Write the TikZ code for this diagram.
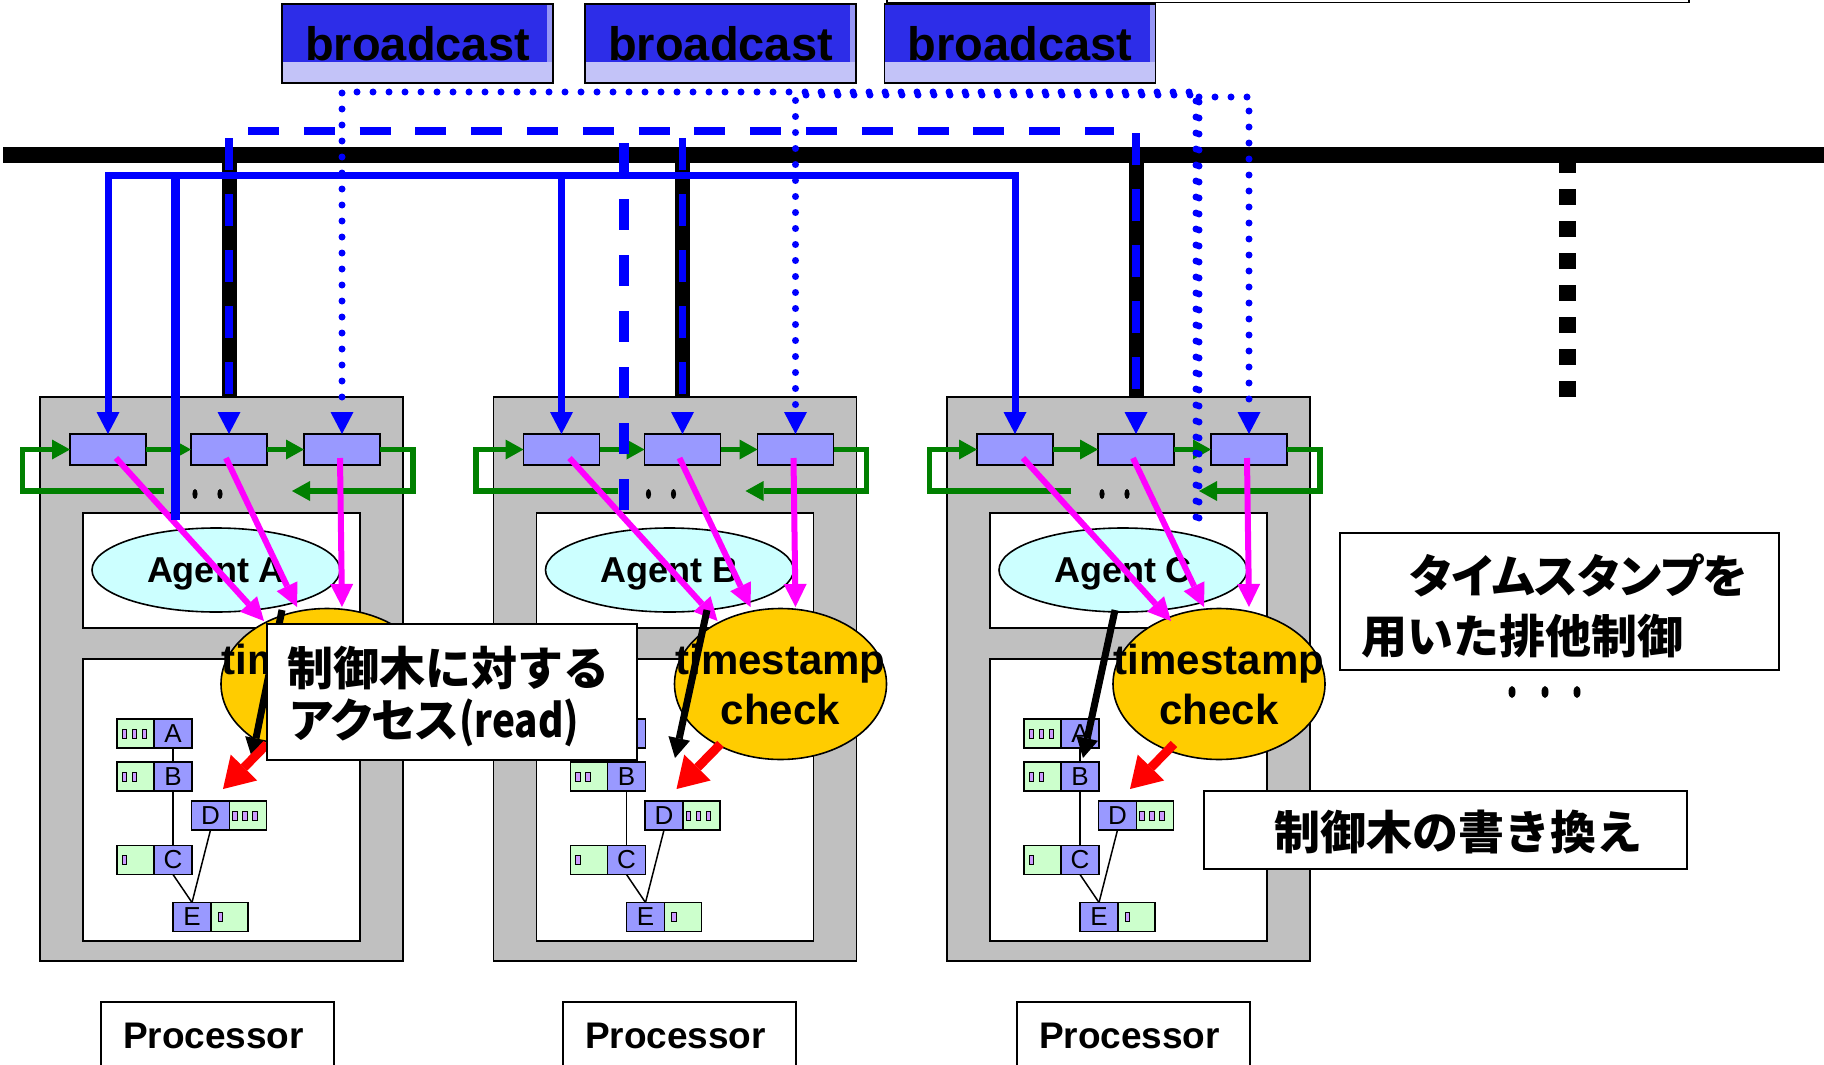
\documentclass[tikz,border=0pt]{standalone}
\usepackage{fontspec}
\setmainfont{Liberation Sans}
\newfontfamily\jpfont{Noto Sans CJK JP}
\newfontfamily\jpkana{Noto Sans CJK JP}[RawFeature=+palt]
\usetikzlibrary{arrows.meta,shapes.geometric}

\definecolor{qblue}{RGB}{153,153,255}
\definecolor{leafgreen}{RGB}{204,255,204}
\definecolor{cellviolet}{RGB}{204,153,255}
\definecolor{agentcyan}{RGB}{204,255,255}
\definecolor{stampgold}{RGB}{255,204,0}
\definecolor{procgray}{RGB}{192,192,192}
\definecolor{ringgreen}{RGB}{0,128,0}
\definecolor{netblue}{RGB}{0,0,255}
\definecolor{entrypink}{RGB}{255,0,255}
\definecolor{bcdeep}{RGB}{45,45,232}
\definecolor{bcpale}{RGB}{195,195,248}
\definecolor{bcedge}{RGB}{150,150,245}

\tikzset{
  btip/.tip={Triangle[length=22pt,width=23pt,line width=0pt 0]},
  gtip/.tip={Triangle[length=18pt,width=20pt,line width=0pt 0]},
  mtip/.tip={Triangle[length=23pt,width=23pt,line width=0pt 0]},
  ktip/.tip={Triangle[length=20pt,width=22pt,line width=0pt 0]},
  rtip/.tip={Triangle[length=30pt,width=37pt,line width=0pt 0]},
  frame/.style={draw=black, line width=1.6pt},
  queue/.style={frame, fill=qblue, minimum width=76pt, minimum height=31pt},
  ring/.style={draw=ringgreen, line width=5.5pt},
  agent/.style={ellipse, frame, fill=agentcyan, minimum width=248pt, minimum height=84pt,
    text height=26pt, text depth=2pt, font=\fontsize{36}{40}\selectfont\bfseries},
  stamp/.style={ellipse, frame, fill=stampgold, minimum width=212pt, minimum height=151pt},
  stamptext/.style={align=center, font=\fontsize{42}{50}\selectfont\bfseries},
  keypart/.style={frame, fill=qblue, minimum width=38pt, minimum height=29pt,
    font=\fontsize{26}{28}\selectfont},
  leafpart/.style={frame, fill=leafgreen, minimum width=37pt, minimum height=29pt},
  link/.style={draw=black, line width=1.5pt},
  pinkarrow/.style={draw=entrypink, line width=6pt, -{mtip}, fill=entrypink},
  readarrow/.style={draw=black, line width=7pt, -{ktip}},
  writearrow/.style={draw=red, line width=9pt, -{rtip}},
  tap/.style={draw=black, line width=15pt},
  bsolid/.style={draw=netblue, line width=7pt},
  bdash/.style={draw=netblue, line width=7.5pt, dash pattern=on 31pt off 24.8pt},
  bdashv/.style={draw=netblue, line width=7.5pt, dash pattern=on 32pt off 24pt},
  bdashlong/.style={draw=netblue, line width=10pt, dash pattern=on 31pt off 25pt},
  bdot/.style={draw=netblue, line width=7pt, line cap=round, dash pattern=on 0pt off 16pt},
  bcast/.style={frame, fill=bcdeep, minimum width=271pt, minimum height=79pt,
    font=\fontsize{47}{50}\selectfont\bfseries,
    path picture={
      \fill[bcedge] ([xshift=-6pt]path picture bounding box.north east)
        rectangle (path picture bounding box.south east);
      \fill[bcpale] (path picture bounding box.south west)
        rectangle ([yshift=21pt]path picture bounding box.south east);}},
  jpbig/.style={font=\jpfont\bfseries\fontsize{46}{50}\selectfont},
  kanabig/.style={font=\jpkana\bfseries\fontsize{46}{50}\selectfont},
  proclabel/.style={font=\fontsize{37}{40}\selectfont\bfseries},
}

% small value slots inside a leaf box
\newcommand\leafcells[3]{%
  \foreach \k in {1,...,#2}{
    \filldraw[fill=cellviolet, draw=black, line width=0.8pt]
      ([shift={(#3+10*\k-10,-4.5)}]#1.west) rectangle ++(4.5,9);
  }}

% one processor: #1 prefix, #2 x offset, #3 stamp centre, #4 agent letter,
% #5 read arrow start, #6 read arrow tip (local x)
\newcommand\procunit[6]{%
\begin{scope}[xshift=#2pt]
  \node[frame, fill=procgray, anchor=north west, minimum width=363pt, minimum height=564pt] (#1box) at (0,397) {};
  \node[frame, fill=white, anchor=north west, minimum width=277pt, minimum height=115pt] (#1upper) at (43,513) {};
  \node[frame, fill=white, anchor=north west, minimum width=277pt, minimum height=282pt] (#1lower) at (43,659) {};
  \node[queue] (#1q1) at (68,449.5) {};
  \node[queue] (#1q2) at (189,449.5) {};
  \node[queue] (#1q3) at (302,449.5) {};
  \coordinate (#1ra) at (373,449.5);
  \coordinate (#1rb) at (373,491);
  \coordinate (#1rc) at (252,491);
  \coordinate (#1la) at (124,491);
  \coordinate (#1lb) at (-17.5,491);
  \coordinate (#1lc) at (-17.5,449.5);
  \draw[ring,-{gtip}] (#1q1) -- (#1q2);
  \draw[ring,-{gtip}] (#1q2) -- (#1q3);
  \draw[ring,-{gtip}] (#1q3.east) -- (#1ra) -- (#1rb) -- (#1rc);
  \draw[ring,-{gtip}] (#1la) -- (#1lb) -- (#1lc) -- (#1q1.west);
  \fill (155,494) ellipse [x radius=2.6pt, y radius=5pt];
  \fill (180,494) ellipse [x radius=2.6pt, y radius=5pt];
  \node[agent] (#1agent) at (176,570) {Agent #4};
  \node[stamp] (#1stamp) at (#3,684) {};
  \node[stamptext] (#1stamptext) at (#1stamp) {timestamp\\check};
  % control tree
  \node[keypart] (#1kA) at (133,733.5) {A};
  \node[leafpart, anchor=east] (#1vA) at (#1kA.west) {};
  \leafcells{#1vA}{3}{5}
  \node[keypart] (#1kB) at (133,776.5) {B};
  \node[leafpart, anchor=east] (#1vB) at (#1kB.west) {};
  \leafcells{#1vB}{2}{5}
  \node[keypart] (#1kD) at (170.5,815.5) {D};
  \node[leafpart, anchor=west] (#1vD) at (#1kD.east) {};
  \leafcells{#1vD}{3}{3}
  \node[keypart] (#1kC) at (133,860) {C};
  \node[leafpart, anchor=east] (#1vC) at (#1kC.west) {};
  \leafcells{#1vC}{1}{5}
  \node[keypart] (#1kE) at (152,917) {E};
  \node[leafpart, anchor=west] (#1vE) at (#1kE.east) {};
  \leafcells{#1vE}{1}{7}
  \draw[link] (#1kA) -- (#1kB);
  \draw[link] (#1kB) -- (#1kC);
  \draw[link] (#1kC.south) -- (#1kE.north);
  \draw[link] (#1kD.south) -- (#1kE.north);
  % queue entries to the timestamp check
  \coordinate (#1m1) at (224,621);
  \coordinate (#1m2) at (257,607);
  \coordinate (#1m3) at (302,607);
  \draw[pinkarrow] ([shift={(8,8.5)}]#1q1.center) -- (#1m1);
  \draw[pinkarrow] ([shift={(-3,8.5)}]#1q2.center) -- (#1m2);
  \draw[pinkarrow] ([shift={(-2,8.5)}]#1q3.center) -- (#1m3);
  % read access and tree update
  \coordinate (#1rs) at (#5,610);
  \coordinate (#1rt) at (#6,758);
  \draw[readarrow] (#1rs) -- (#1rt);
  \coordinate (#1ws) at (227,744);
  \coordinate (#1wt) at (183,789);
  \draw[writearrow] (#1ws) -- (#1wt);
\end{scope}}

\begin{document}
\begin{tikzpicture}[x=1pt, y=-1pt, every node/.style={inner sep=0pt, outer sep=0pt}]
\useasboundingbox (0,0) rectangle (1824,1065);
\clip (0,0) rectangle (1824,1065);
\fill[white] (0,0) rectangle (1824,1065);

% message slots
\node[frame, fill=white, anchor=south west, minimum width=802pt, minimum height=60pt] (slot) at (887,2.5) {};
\node[bcast] (bc1) at (417.5,43.5) {broadcast};
\node[bcast] (bc2) at (720.5,43.5) {broadcast};
\node[bcast] (bc3) at (1020,43.5) {broadcast};

% processors
\procunit{A}{40}{287}{A}{242}{212}
\procunit{B}{493.5}{287}{B}{213.5}{181.5}
\procunit{C}{947}{272}{C}{168}{136}

% shared bus and its taps
\coordinate (busL) at (3,155);
\coordinate (busR) at (1824,155);
\draw[draw=black, line width=16pt] (busL) -- (busR);
\draw[tap] (Aq2.north |- busL) -- (Aq2.north |- Abox.north);
\draw[tap] (Bq2.north |- busL) -- (Bq2.north |- Bbox.north);
\draw[tap] (Cq2.north |- busL) -- (Cq2.north |- Cbox.north);
\coordinate (moreT) at (1567.5,157);
\coordinate (moreB) at (1567.5,397);
\draw[draw=black, line width=17pt, dash pattern=on 16pt off 16pt] (moreT) -- (moreB);

% broadcast from agent A (solid)
\coordinate (lineS) at (0,175);
\coordinate (srcA) at (175,520);
\coordinate (hubA) at (175,175);
\draw[bsolid, line width=9pt] (srcA) -- (hubA);
\draw[bsolid, {btip}-{btip}] (Aq1.north) -- (Aq1.north |- lineS) -- (Cq1.north |- lineS) -- (Cq1.north);
\draw[bsolid, -{btip}] (Bq1.north |- lineS) -- (Bq1.north);

% broadcast from agent B (dashed)
\coordinate (dashL) at (248,131);
\coordinate (dashR) at (1114,131);
\draw[bdash] (dashL) -- (dashR);
\coordinate (tapTop) at (0,138);
\coordinate (tapTopC) at (0,133);
\draw[bdashv, -{btip}] (Aq2.north |- tapTop) -- (Aq2.north);
\draw[bdashv, -{btip}] (Bq2.north |- tapTop) -- (Bq2.north);
\draw[bdashv, -{btip}] (Cq2.north |- tapTopC) -- (Cq2.north);
\coordinate (srcBtop) at (624,143);
\coordinate (srcB) at (624,512);
\draw[bdashlong] (srcBtop) -- (srcB);

% broadcast from agent C (dotted)
\coordinate (srcC) at (1196,517);
\coordinate (srcC2) at (1199,518);
\coordinate (dotRow) at (0,92);
\coordinate (dotRow2) at (0,95);
\coordinate (dotRow3) at (0,97);
\draw[bdot, -{btip}] (srcC) -- (srcC |- dotRow) -- (Aq3.north |- dotRow) -- (Aq3.north);
\draw[bdot, -{btip}] (srcC2) -- (srcC2 |- dotRow2) -- (Bq3.north |- dotRow2) -- (Bq3.north);
\draw[bdot, -{btip}] (srcC2 |- dotRow3) -- (Cq3.north |- dotRow3) -- (Cq3.north);

% notes
\node[frame, fill=white, anchor=north west, minimum width=370pt, minimum height=136pt] (readnote) at (267,624) {};
\node[jpbig, anchor=base west] (readnote1) at (287,685) {制御木に対する};
\node[kanabig, anchor=base west] (readnote2) at (290,737.5) {アクセス\scalebox{0.84}[1]{(read)}};

\node[frame, fill=white, anchor=north west, minimum width=439pt, minimum height=137pt] (tsnote) at (1340,533) {};
\node[kanabig, anchor=base west] (tsnote1) at (1410,593.5) {タイムスタンプを};
\node[jpbig, anchor=base west] (tsnote2) at (1361,653.5) {用いた排他制御};
\fill (1512,692) ellipse [x radius=3.5pt, y radius=6pt];
\fill (1545,692) ellipse [x radius=3.5pt, y radius=6pt];
\fill (1577,692) ellipse [x radius=3.5pt, y radius=6pt];

\node[frame, fill=white, anchor=north west, minimum width=483pt, minimum height=78pt] (wnote) at (1204,791) {};
\node[jpbig, anchor=base west] (wnote1) at (1274,849) {制御木の書き換え};

% processor captions
\foreach \p/\x in {A/101, B/563, C/1017}{
  \node[frame, fill=white, anchor=north west, minimum width=233pt, minimum height=90pt] (pl\p) at (\x,1002) {};
  \node[proclabel, anchor=base west] (plt\p) at ([shift={(22,46)}]pl\p.north west) {Processor};
}
\end{tikzpicture}
\end{document}
